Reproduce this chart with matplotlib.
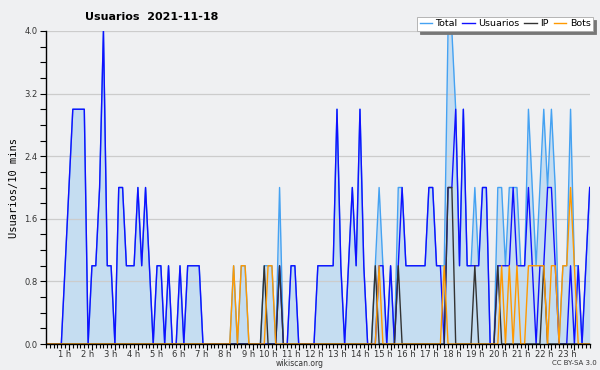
import matplotlib
matplotlib.use('Agg')
import matplotlib.pyplot as plt
import matplotlib.transforms as mtransforms
from matplotlib.ticker import FixedLocator, MultipleLocator
from matplotlib.lines import Line2D

title = "Usuarios  2021-11-18"
ylabel = "Usuarios/10 mins"
series_names = ["Total", "Usuarios", "IP", "Bots"]
hour_labels = [f"{h} h" for h in range(1, 24)]
y_ticks = [0.0, 0.8, 1.6, 2.4, 3.2, 4.0]

total = [0,0,0,0,0,1,2,3,3,3,3,0,
         1,1,2,4,1,1,0,2,2,1,1,1,
         2,1,2,1,0,1,1,0,1,0,0,1,
         0,1,1,1,1,0,0,0,0,0,0,0,
         0,1,0,1,1,0,0,0,0,1,1,1,
         0,2,0,0,1,1,0,0,0,0,0,1,
         1,1,1,1,3,1,0,1,2,1,3,1,
         0,0,1,2,1,0,1,0,2,2,1,1,
         1,1,1,1,2,2,1,1,1,4,4,3,
         1,3,1,1,2,1,2,2,0,0,2,2,
         1,2,2,2,1,1,3,2,1,2,3,2,
         3,2,0,1,1,3,1,1,0,1,2]
usuarios = [0,0,0,0,0,1,2,3,3,3,3,0,
            1,1,2,4,1,1,0,2,2,1,1,1,
            2,1,2,1,0,1,1,0,1,0,0,1,
            0,1,1,1,1,0,0,0,0,0,0,0,
            0,0,0,0,0,0,0,0,0,0,0,0,
            0,1,0,0,1,1,0,0,0,0,0,1,
            1,1,1,1,3,1,0,1,2,1,3,1,
            0,0,0,1,1,0,1,0,1,2,1,1,
            1,1,1,1,2,2,1,1,0,2,2,3,
            1,3,1,1,1,1,2,2,0,0,1,1,
            1,1,2,1,1,1,2,1,0,1,1,2,
            2,1,0,0,0,1,0,1,0,1,2]
ip = [0,0,0,0,0,0,0,0,0,0,0,0,
      0,0,0,0,0,0,0,0,0,0,0,0,
      0,0,0,0,0,0,0,0,0,0,0,0,
      0,0,0,0,0,0,0,0,0,0,0,0,
      0,0,0,0,0,0,0,0,0,1,0,0,
      0,1,0,0,0,0,0,0,0,0,0,0,
      0,0,0,0,0,0,0,0,0,0,0,0,
      0,0,1,0,0,0,0,0,1,0,0,0,
      0,0,0,0,0,0,0,0,0,2,2,0,
      0,0,0,0,1,0,0,0,0,0,1,0,
      0,0,0,0,0,0,0,0,0,0,1,0,
      0,0,0,0,0,0,0,0,0,0,0]
bots = [0,0,0,0,0,0,0,0,0,0,0,0,
        0,0,0,0,0,0,0,0,0,0,0,0,
        0,0,0,0,0,0,0,0,0,0,0,0,
        0,0,0,0,0,0,0,0,0,0,0,0,
        0,1,0,1,1,0,0,0,0,0,1,1,
        0,0,0,0,0,0,0,0,0,0,0,0,
        0,0,0,0,0,0,0,0,0,0,0,0,
        0,0,0,1,0,0,0,0,0,0,0,0,
        0,0,0,0,0,0,0,0,1,0,0,0,
        0,0,0,0,0,0,0,0,0,0,0,1,
        0,1,0,1,0,0,1,1,1,1,1,0,
        1,1,0,1,1,2,1,0,0,0,0]

BG = '#eff0f2'
C_TOTAL = '#45a2f2'
C_USU = '#1010ff'
C_IP = '#333333'
C_BOTS = '#ff9900'
C_FILL = '#c5ddf1'

x = list(range(len(total)))

fig = plt.figure(figsize=(6.0, 3.7), dpi=100, facecolor=BG)
ax = fig.add_axes([46/600, 26/370, (589.7-46)/600, (344-31)/370])
ax.set_facecolor(BG)

ax.fill_between(x, total, 0, color=C_FILL, lw=0, zorder=1)
ax.plot(x, total, color=C_TOTAL, lw=1.0, zorder=2)
ax.plot(x, usuarios, color=C_USU, lw=1.0, zorder=3)
ax.plot(x, ip, color=C_IP, lw=1.0, zorder=4)
ax.plot(x, bots, color=C_BOTS, lw=1.0, zorder=5)

ax.set_xlim(0, len(total) - 1)
ax.set_ylim(0, 4.0)

ax.yaxis.set_major_locator(FixedLocator(y_ticks))
ax.set_yticklabels([f"{v:.1f}" for v in y_ticks])
ax.yaxis.set_minor_locator(MultipleLocator(0.2))
ax.grid(axis='y', which='major', color='#cccccc', lw=0.9, zorder=0)

ax.xaxis.set_major_locator(FixedLocator([6 * h for h in range(1, 24)]))
ax.set_xticklabels(hour_labels)
ax.xaxis.set_minor_locator(MultipleLocator(1))

ax.tick_params(axis='x', which='major', length=4, width=0.8, labelsize=6, pad=0.5, colors='black', labelcolor='#333333')
ax.tick_params(axis='x', which='minor', length=3, width=0.8)
ax.tick_params(axis='y', which='major', length=4, width=0.8, labelsize=6, pad=2, labelcolor='#333333')
ax.tick_params(axis='y', which='minor', length=4, width=0.8)

offset = mtransforms.ScaledTranslation(2/100, 0, fig.dpi_scale_trans)
for lab in ax.get_xticklabels():
    lab.set_horizontalalignment('right')
    lab.set_transform(lab.get_transform() + offset)

for s in ['top', 'right']:
    ax.spines[s].set_visible(False)
for s in ['left', 'bottom']:
    ax.spines[s].set_linewidth(1.0)
    ax.spines[s].set_zorder(6)

ax.set_ylabel(ylabel, fontsize=7.5, family='DejaVu Sans Mono', labelpad=4)

fig.text(85/600, 1 - 17/370, title, fontsize=8, fontweight='bold', va='center', ha='left')
fig.text(300/600, 1 - 363/370, "wikiscan.org", fontsize=5.5, ha='center', va='center', color='#333333')
fig.text(597/600, 1 - 363/370, "CC BY-SA 3.0", fontsize=5, ha='right', va='center', color='#333333')

handles = [Line2D([], [], color=c, lw=1.0) for c in [C_TOTAL, C_USU, C_IP, C_BOTS]]
leg = fig.legend(handles, series_names, loc='upper right', bbox_to_anchor=(593/600, 1 - 17/370),
                 ncol=4, fontsize=6.8, frameon=True, fancybox=False, shadow={'color': '#777777', 'alpha': 1.0},
                 handlelength=1.3, handletextpad=0.4, columnspacing=0.5, borderpad=0.25, borderaxespad=0)
leg.get_frame().set_edgecolor('#aaaaaa')
leg.get_frame().set_linewidth(0.6)
leg.get_frame().set_facecolor('white')

fig.savefig('out.png', dpi=100, facecolor=BG)
